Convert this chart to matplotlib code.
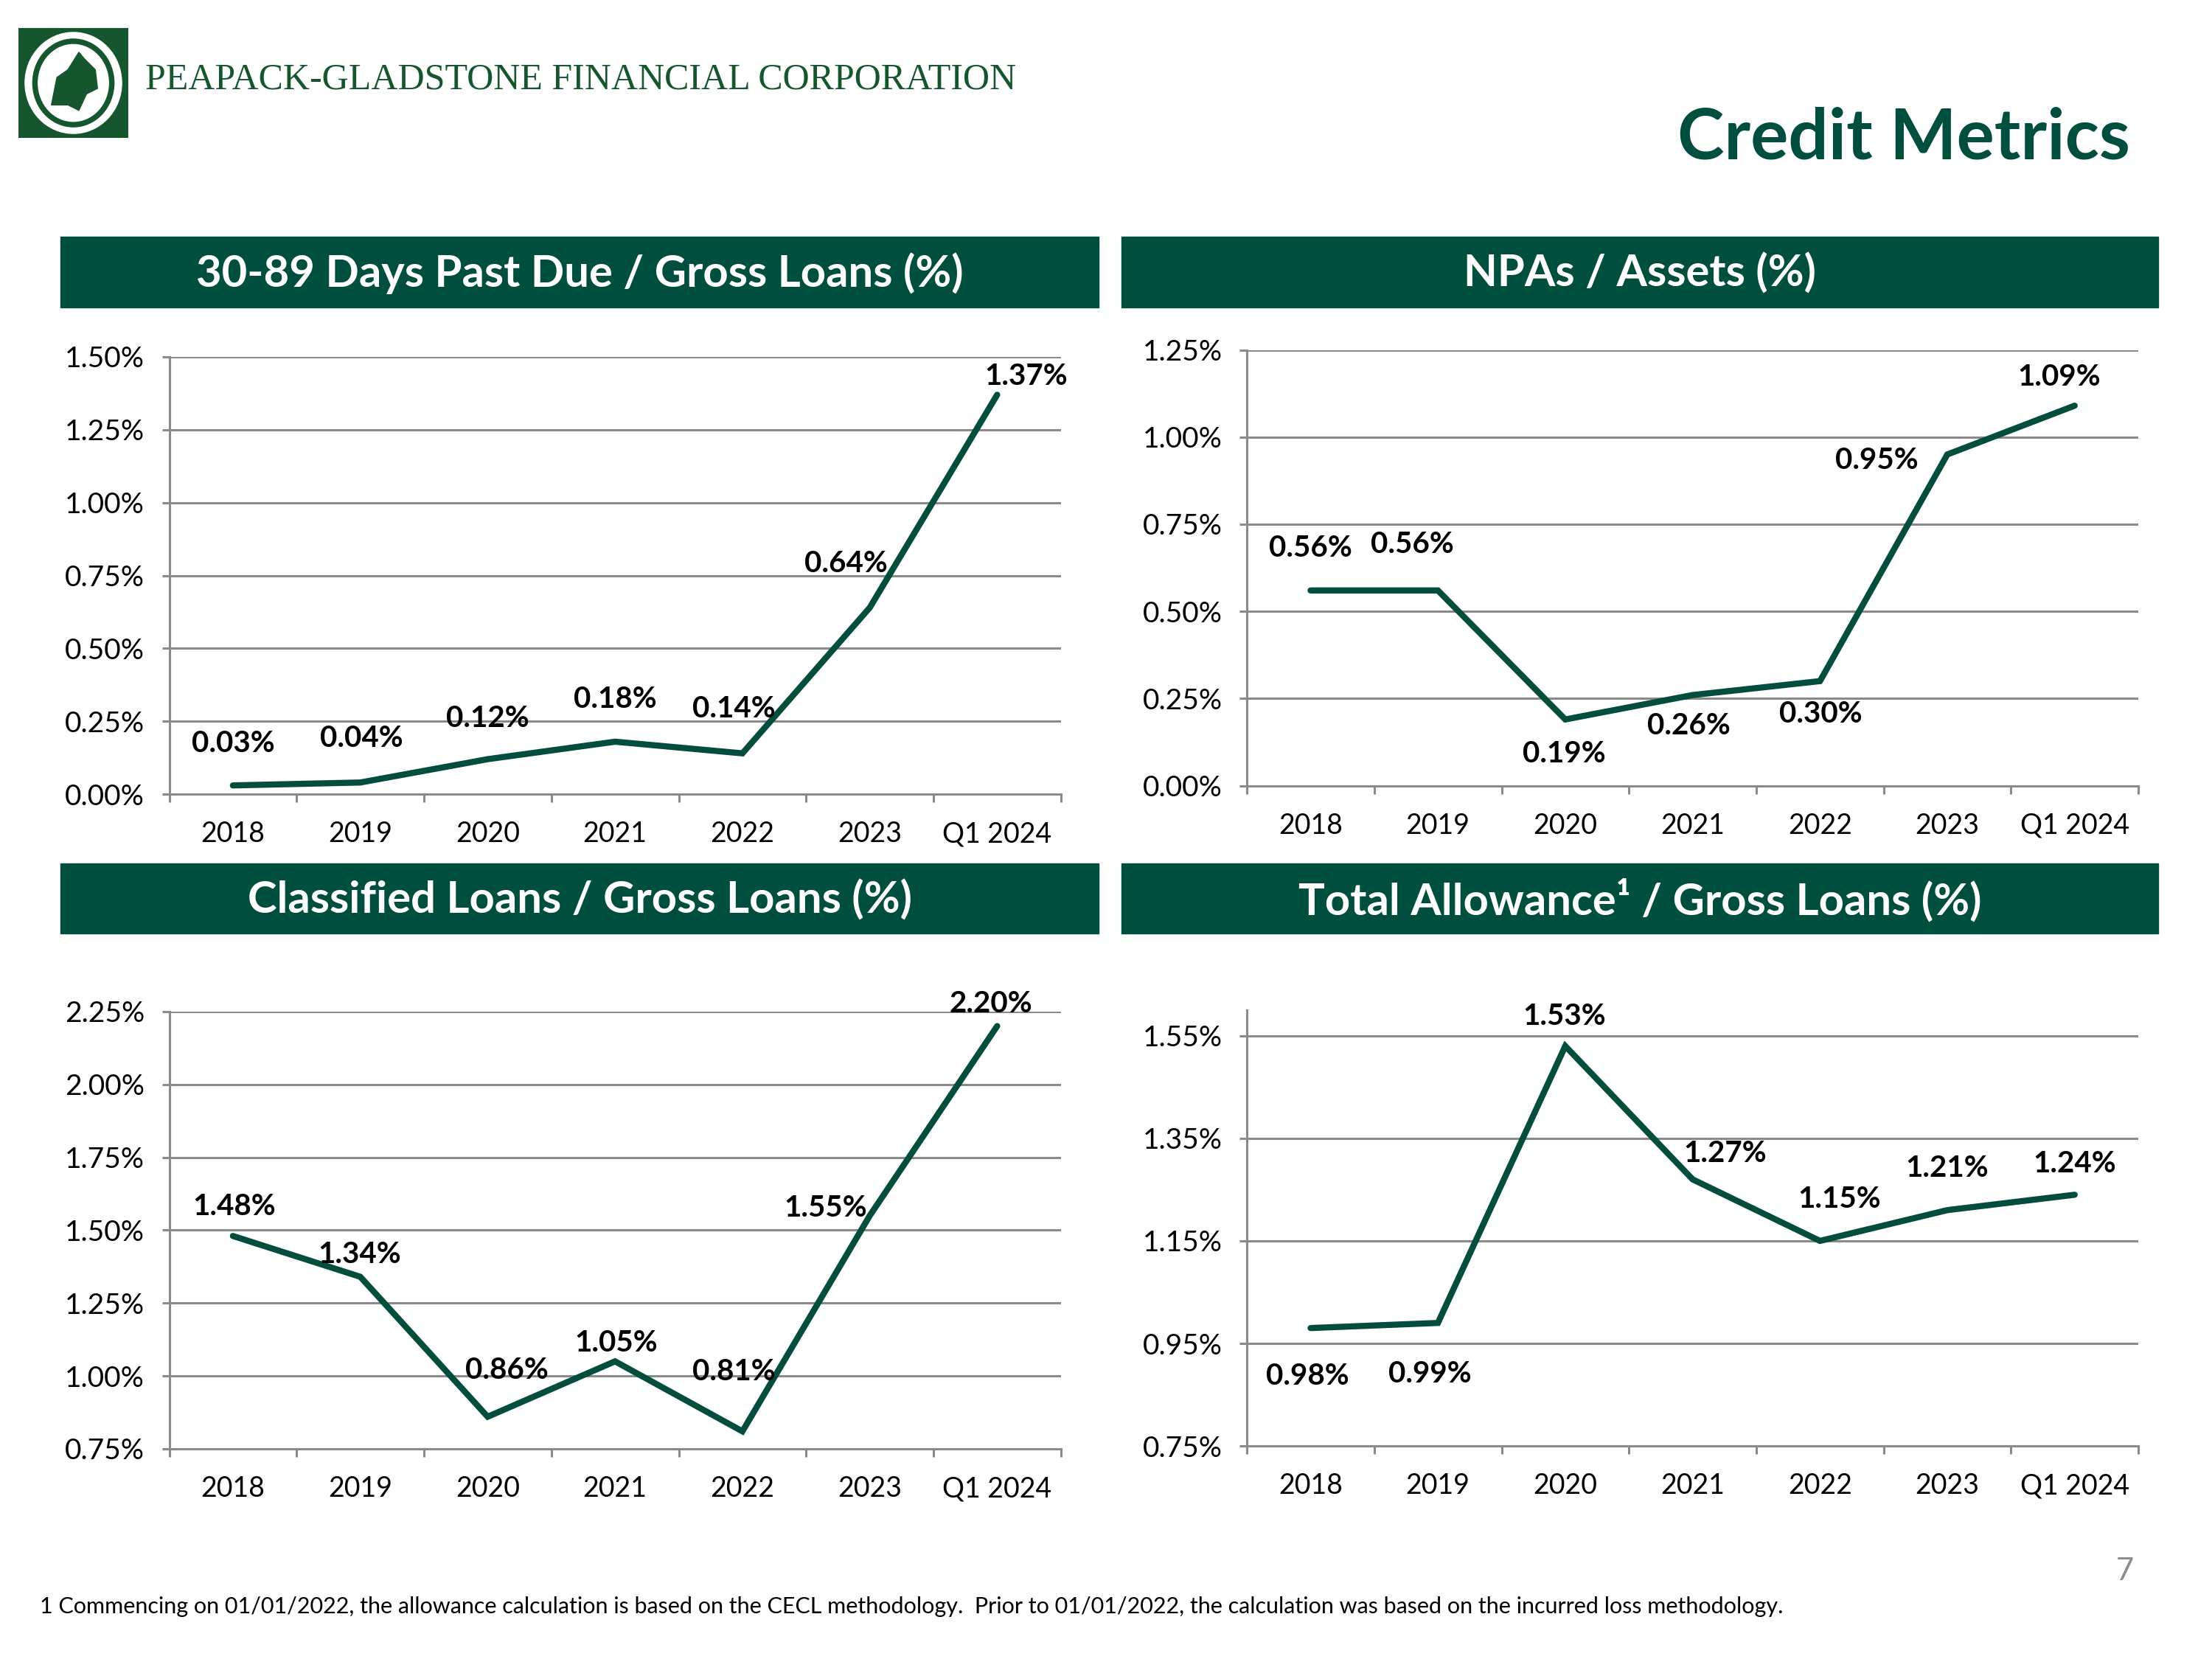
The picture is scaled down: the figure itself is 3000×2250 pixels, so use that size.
import matplotlib
matplotlib.use("Agg")
import matplotlib.pyplot as plt
from matplotlib.patches import Rectangle, Ellipse, Polygon
from matplotlib.ticker import FixedLocator, NullFormatter, FixedFormatter

# ---------------- data ----------------
categories = ['2018', '2019', '2020', '2021', '2022', '2023', 'Q1 2024']
past_due = [0.03, 0.04, 0.12, 0.18, 0.14, 0.64, 1.37]
npa_assets = [0.56, 0.56, 0.19, 0.26, 0.30, 0.95, 1.09]
classified = [1.48, 1.34, 0.86, 1.05, 0.81, 1.55, 2.20]
allowance = [0.98, 0.99, 1.53, 1.27, 1.15, 1.21, 1.24]

past_due_ticks = [0.00, 0.25, 0.50, 0.75, 1.00, 1.25, 1.50]
npa_ticks = [0.00, 0.25, 0.50, 0.75, 1.00, 1.25]
classified_ticks = [0.75, 1.00, 1.25, 1.50, 1.75, 2.00, 2.25]
allowance_ticks = [0.75, 0.95, 1.15, 1.35, 1.55]

titles = ['30-89 Days Past Due / Gross Loans (%)',
          'NPAs / Assets (%)',
          'Classified Loans / Gross Loans (%)',
          'Total Allowance\u00b9 / Gross Loans (%)']

# label offsets in points (styling)
offs_tl = [(0, 41), (1, 43), (0, 40), (0, 41), (-8, 43), (-23, 43), (28, 18)]
offs_tr = [(0, 41), (-25, 45), (-1, -34), (-4, -30), (1, -32), (-69, -6), (-15, 28)]
offs_bl = [(1, 29), (-1, 22), (19, 45), (1, 18), (-8, 58), (-43, 7), (-6, 22)]
offs_br = [(-3, -47), (-8, -50), (-1, 29), (32, 25), (19, 41), (0, 41), (0, 30)]

GREEN = '#004F3E'
LINE = '#034D3C'
GRID = '#8A8A8A'
LOGO = '#16562F'
FONT = 'Lato'

W, H = 3000, 2250
fig = plt.figure(figsize=(30, 22.5), dpi=100)
fig.patch.set_facecolor('white')


def fx(x):
    return x / W


def fy(y):
    return 1 - y / H


# ---------------- logo & header ----------------
lax = fig.add_axes([fx(25), fy(187), 149 / W, 149 / H])
lax.set_xlim(0, 1)
lax.set_ylim(0, 1)
lax.axis('off')
lax.add_patch(Rectangle((0, 0), 1, 1, color=LOGO))
lax.add_patch(Ellipse((0.5, 0.5), 0.88, 0.92, color='white'))
lax.add_patch(Ellipse((0.5, 0.5), 0.74, 0.80, color=LOGO))
lax.add_patch(Ellipse((0.5, 0.5), 0.64, 0.70, color='white'))
lax.add_patch(Polygon([(0.30, 0.30), (0.35, 0.55), (0.45, 0.62), (0.55, 0.78),
                       (0.60, 0.72), (0.70, 0.62), (0.72, 0.45), (0.62, 0.40),
                       (0.55, 0.25), (0.45, 0.30)], closed=True, color=LOGO))

fig.text(fx(197), fy(108), 'PEAPACK-GLADSTONE FINANCIAL CORPORATION',
         family='Liberation Serif', fontsize=36, color=LOGO, va='center', ha='left')
fig.text(fx(2889), fy(188), 'Credit Metrics', family=FONT, fontweight='bold',
         fontsize=69, color=GREEN, va='center', ha='right')

# header bars
bars = [(82, 321, 1490, 417), (1521, 321, 2927, 417),
        (82, 1171, 1490, 1266), (1521, 1171, 2927, 1266)]
for (x0, y0, x1, y1), t in zip(bars, titles):
    fig.patches.append(Rectangle((fx(x0), fy(y1)), (x1 - x0) / W, (y1 - y0) / H,
                                 transform=fig.transFigure, color=GREEN, zorder=1))
    fig.text(fx((x0 + x1) / 2), fy((y0 + y1) / 2 + 2), t, family=FONT, fontweight='bold',
             fontsize=43, color='white', ha='center', va='center', zorder=2)

# ---------------- charts ----------------
panels = [
    ([0.0765, 0.5213, 0.4031, 0.2636], past_due, past_due_ticks, (0.0, 1.50), offs_tl),
    ([0.5637, 0.5264, 0.4030, 0.2627], npa_assets, npa_ticks, (0.0, 1.25), offs_tr),
    ([0.0765, 0.1267, 0.4031, 0.2636], classified, classified_ticks, (0.75, 2.25), offs_bl),
    ([0.5637, 0.1284, 0.4030, 0.2627], allowance, allowance_ticks, (0.75, 1.60), offs_br),
]

x = list(range(len(categories)))
for rect, vals, ticks, ylim, offs in panels:
    ax = fig.add_axes(rect)
    ax.set_xlim(-0.5, len(categories) - 0.5)
    ax.set_ylim(*ylim)
    for s in ['top', 'right']:
        ax.spines[s].set_visible(False)
    for s in ['left', 'bottom']:
        ax.spines[s].set_color(GRID)
        ax.spines[s].set_linewidth(2.2)
    ax.set_yticks(ticks)
    ax.set_yticklabels([f'{t:.2f}%' for t in ticks])
    ax.yaxis.grid(True, color=GRID, linewidth=2.2)
    ax.set_axisbelow(True)
    ax.xaxis.set_major_locator(FixedLocator([i - 0.5 for i in range(len(categories) + 1)]))
    ax.xaxis.set_major_formatter(NullFormatter())
    ax.xaxis.set_minor_locator(FixedLocator(x))
    ax.xaxis.set_minor_formatter(FixedFormatter(categories))
    ax.tick_params(axis='x', which='major', length=8, width=2.2, color=GRID, direction='out')
    ax.tick_params(axis='x', which='minor', length=0, pad=26, labelsize=27)
    ax.tick_params(axis='y', length=7, width=2.2, color=GRID, pad=17, labelsize=28)
    for lab in ax.get_xticklabels(minor=True) + ax.get_yticklabels():
        lab.set_family(FONT)
    ax.plot(x, vals, color=LINE, linewidth=6, solid_capstyle='round',
            solid_joinstyle='miter', zorder=3, clip_on=False)
    for xi, v, (dx, dy) in zip(x, vals, offs):
        ax.annotate(f'{v:.2f}%', (xi, v), xytext=(dx, dy), textcoords='offset points',
                    ha='center', va='center', family=FONT, fontweight='bold',
                    fontsize=29, color='black', zorder=4, annotation_clip=False)

# footnote & page number
fig.text(fx(54), fy(2179), '1 Commencing on 01/01/2022, the allowance calculation is based on the CECL '
         'methodology.  Prior to 01/01/2022, the calculation was based on the incurred loss methodology.',
         family=FONT, fontsize=22, color='black', ha='left', va='center')
fig.text(fx(2882), fy(2131), '7', family=FONT, fontsize=30, color='#8C8C8C', ha='center', va='center')

fig.savefig('out.png', dpi=100, facecolor='white')
